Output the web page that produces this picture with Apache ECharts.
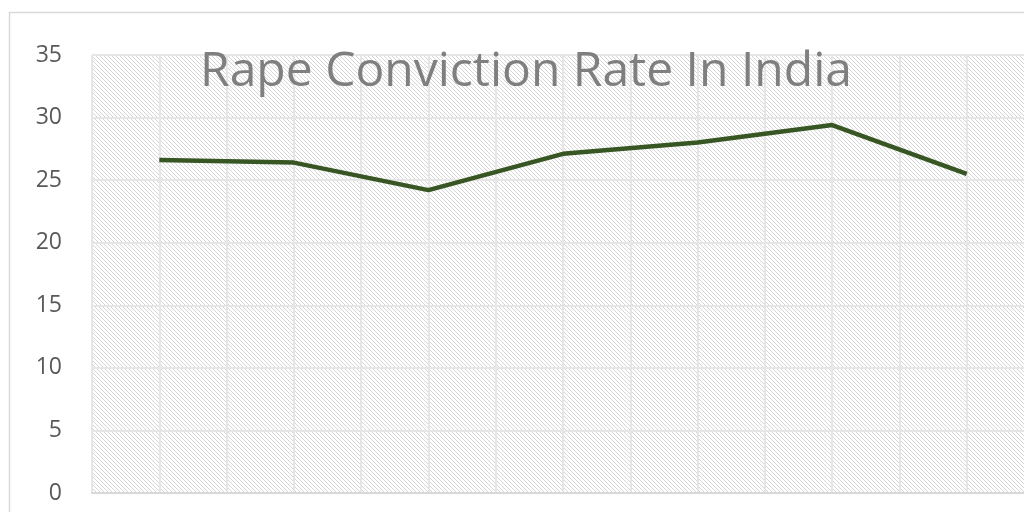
<!DOCTYPE html>
<html>
<head>
<meta charset="utf-8">
<style>
  html, body { margin: 0; padding: 0; background: #fff; }
  #chart { width: 1024px; height: 512px; }
</style>
<script src="https://cdn.jsdelivr.net/npm/echarts@6/dist/echarts.min.js"></script>
</head>
<body>
<div id="chart"></div>
<script>
  // data
  const years = ["2010", "2011", "2012", "2013", "2014", "2015", "2016"]
  const convictionRate = [26.6, 26.4, 24.2, 27.1, 28.0, 29.4, 25.5]
  const yTicks = { min: 0, max: 35, interval: 5 }

  // half-category axis only used for the extra vertical gridlines
  const halfSteps = []
  years.forEach(y => { halfSteps.push(y + "a"); halfSteps.push(y + "b") })

  // light downward diagonal hatch, like Excel's pattern fill
  const makeHatch = () => {
    const c = document.createElement("canvas")
    c.width = 8
    c.height = 8
    const ctx = c.getContext("2d")
    ctx.fillStyle = "#ffffff"
    ctx.fillRect(0, 0, 8, 8)
    ctx.fillStyle = "#d6d6d6"
    for (let x = 0; x < 8; x++) {
      for (let y = 0; y < 8; y++) {
        if ((x - y + 8) % 4 === 0) ctx.fillRect(x, y, 1, 1)
      }
    }
    return c
  }

  const chart = echarts.init(document.getElementById("chart"))

  chart.setOption({
    animation: false,
    title: {
      text: "Rape Conviction Rate In India",
      left: 521,
      top: 43,
      textAlign: "center",
      textStyle: {
        fontFamily: "Open Sans",
        fontSize: 48,
        fontWeight: "normal",
        color: "#7f7f7f"
      }
    },
    graphic: [
      {
        type: "rect",
        z: -1,
        shape: { x: 9.5, y: 12.5, width: 1100, height: 600 },
        style: { fill: "none", stroke: "#d9d9d9", lineWidth: 1.5 }
      }
    ],
    grid: {
      left: 92,
      top: 55,
      width: 942,
      height: 438,
      outerBoundsMode: "none",
      containLabel: false,
      show: true,
      borderWidth: 0,
      backgroundColor: { image: makeHatch(), repeat: "repeat" }
    },
    xAxis: [
      {
        type: "category",
        data: years,
        boundaryGap: true,
        axisLine: { show: true, lineStyle: { color: "#d9d9d9", width: 2 } },
        axisTick: { show: false },
        axisLabel: { show: false },
        splitLine: { show: false }
      },
      {
        type: "category",
        data: halfSteps,
        position: "bottom",
        boundaryGap: true,
        axisLine: { show: false },
        axisTick: { show: false },
        axisLabel: { show: false },
        splitLine: { show: true, lineStyle: { color: "#e6e6e6", width: 2 } }
      }
    ],
    yAxis: {
      type: "value",
      min: yTicks.min,
      max: yTicks.max,
      interval: yTicks.interval,
      axisLine: { show: false },
      axisTick: { show: false },
      axisLabel: {
        fontFamily: "Open Sans",
        fontSize: 23,
        color: "#595959",
        margin: 30
      },
      splitLine: { show: true, lineStyle: { color: "#e6e6e6", width: 2 } }
    },
    series: [
      {
        type: "line",
        xAxisIndex: 0,
        data: convictionRate,
        symbol: "none",
        lineStyle: { color: "#375623", width: 4.5 }
      }
    ]
  })
</script>
</body>
</html>
